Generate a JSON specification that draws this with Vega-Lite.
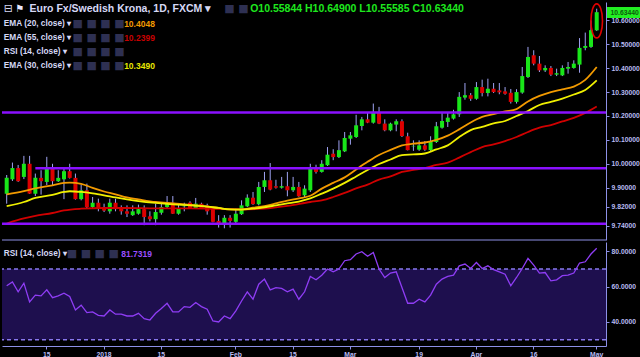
{
"$schema": "https://vega.github.io/schema/vega-lite/v6.json",
"background": "#000000",
"padding": 0,
"spacing": 1,
"config": {
  "view": {"stroke": null},
  "axis": {"grid": false, "domainColor": "#8d90e6", "tickColor": "#8d90e6", "labelColor": "#b8bbf2", "labelFont": "Liberation Sans", "labelFontSize": 6.8, "labelFontWeight": "bold"},
  "text": {"font": "Liberation Sans"}
},
"datasets": {
  "candles": [
    {"d":"2017-12-06","o":9.875,"h":9.953,"l":9.833,"c":9.941},
    {"d":"2017-12-07","o":9.935,"h":10.005,"l":9.928,"c":9.982},
    {"d":"2017-12-08","o":9.982,"h":9.995,"l":9.924,"c":9.927},
    {"d":"2017-12-11","o":9.945,"h":10.033,"l":9.936,"c":10.000},
    {"d":"2017-12-12","o":10.000,"h":10.033,"l":9.874,"c":9.875},
    {"d":"2017-12-13","o":9.875,"h":9.959,"l":9.865,"c":9.941},
    {"d":"2017-12-14","o":9.941,"h":9.973,"l":9.871,"c":9.927},
    {"d":"2017-12-15","o":9.924,"h":10.029,"l":9.911,"c":9.980},
    {"d":"2017-12-18","o":9.985,"h":10.000,"l":9.911,"c":9.927},
    {"d":"2017-12-19","o":9.927,"h":9.973,"l":9.924,"c":9.941},
    {"d":"2017-12-20","o":9.935,"h":9.980,"l":9.852,"c":9.969},
    {"d":"2017-12-21","o":9.969,"h":10.000,"l":9.938,"c":9.941},
    {"d":"2017-12-22","o":9.941,"h":9.959,"l":9.850,"c":9.852},
    {"d":"2017-12-26","o":9.852,"h":9.913,"l":9.847,"c":9.889},
    {"d":"2017-12-27","o":9.889,"h":9.917,"l":9.815,"c":9.819},
    {"d":"2017-12-28","o":9.819,"h":9.861,"l":9.812,"c":9.837},
    {"d":"2017-12-29","o":9.837,"h":9.854,"l":9.801,"c":9.812},
    {"d":"2018-01-01","o":9.815,"h":9.833,"l":9.798,"c":9.804},
    {"d":"2018-01-02","o":9.801,"h":9.854,"l":9.791,"c":9.837},
    {"d":"2018-01-03","o":9.837,"h":9.854,"l":9.801,"c":9.810},
    {"d":"2018-01-04","o":9.812,"h":9.826,"l":9.787,"c":9.801},
    {"d":"2018-01-05","o":9.801,"h":9.826,"l":9.777,"c":9.791},
    {"d":"2018-01-08","o":9.785,"h":9.826,"l":9.782,"c":9.801},
    {"d":"2018-01-09","o":9.791,"h":9.829,"l":9.787,"c":9.810},
    {"d":"2018-01-10","o":9.810,"h":9.826,"l":9.743,"c":9.777},
    {"d":"2018-01-11","o":9.780,"h":9.801,"l":9.759,"c":9.768},
    {"d":"2018-01-12","o":9.768,"h":9.833,"l":9.743,"c":9.798},
    {"d":"2018-01-15","o":9.795,"h":9.833,"l":9.787,"c":9.819},
    {"d":"2018-01-16","o":9.819,"h":9.865,"l":9.812,"c":9.837},
    {"d":"2018-01-17","o":9.837,"h":9.865,"l":9.790,"c":9.791},
    {"d":"2018-01-18","o":9.791,"h":9.829,"l":9.787,"c":9.815},
    {"d":"2018-01-19","o":9.822,"h":9.837,"l":9.801,"c":9.824},
    {"d":"2018-01-22","o":9.837,"h":9.843,"l":9.813,"c":9.815},
    {"d":"2018-01-23","o":9.815,"h":9.857,"l":9.812,"c":9.833},
    {"d":"2018-01-24","o":9.833,"h":9.837,"l":9.812,"c":9.815},
    {"d":"2018-01-25","o":9.826,"h":9.833,"l":9.787,"c":9.801},
    {"d":"2018-01-26","o":9.812,"h":9.819,"l":9.755,"c":9.757},
    {"d":"2018-01-29","o":9.761,"h":9.785,"l":9.733,"c":9.752},
    {"d":"2018-01-30","o":9.752,"h":9.785,"l":9.730,"c":9.774},
    {"d":"2018-01-31","o":9.774,"h":9.785,"l":9.733,"c":9.761},
    {"d":"2018-02-01","o":9.757,"h":9.812,"l":9.752,"c":9.791},
    {"d":"2018-02-02","o":9.789,"h":9.847,"l":9.786,"c":9.826},
    {"d":"2018-02-05","o":9.822,"h":9.872,"l":9.819,"c":9.858},
    {"d":"2018-02-06","o":9.858,"h":9.882,"l":9.828,"c":9.831},
    {"d":"2018-02-07","o":9.831,"h":9.924,"l":9.826,"c":9.903},
    {"d":"2018-02-08","o":9.903,"h":9.966,"l":9.882,"c":9.931},
    {"d":"2018-02-09","o":9.931,"h":10.003,"l":9.889,"c":9.892},
    {"d":"2018-02-12","o":9.906,"h":9.933,"l":9.896,"c":9.900},
    {"d":"2018-02-13","o":9.900,"h":9.945,"l":9.896,"c":9.906},
    {"d":"2018-02-14","o":9.906,"h":9.966,"l":9.864,"c":9.889},
    {"d":"2018-02-15","o":9.889,"h":9.945,"l":9.882,"c":9.903},
    {"d":"2018-02-16","o":9.903,"h":9.924,"l":9.862,"c":9.864},
    {"d":"2018-02-19","o":9.868,"h":9.910,"l":9.861,"c":9.896},
    {"d":"2018-02-20","o":9.889,"h":10.000,"l":9.882,"c":9.980},
    {"d":"2018-02-21","o":9.982,"h":9.996,"l":9.959,"c":9.966},
    {"d":"2018-02-22","o":9.966,"h":10.015,"l":9.963,"c":10.000},
    {"d":"2018-02-23","o":9.994,"h":10.070,"l":9.991,"c":10.038},
    {"d":"2018-02-26","o":10.042,"h":10.061,"l":10.015,"c":10.028},
    {"d":"2018-02-27","o":10.028,"h":10.098,"l":10.024,"c":10.057},
    {"d":"2018-02-28","o":10.052,"h":10.133,"l":10.049,"c":10.108},
    {"d":"2018-03-01","o":10.105,"h":10.133,"l":10.080,"c":10.119},
    {"d":"2018-03-02","o":10.112,"h":10.205,"l":10.108,"c":10.161},
    {"d":"2018-03-05","o":10.158,"h":10.196,"l":10.140,"c":10.186},
    {"d":"2018-03-06","o":10.186,"h":10.214,"l":10.170,"c":10.172},
    {"d":"2018-03-07","o":10.172,"h":10.252,"l":10.168,"c":10.214},
    {"d":"2018-03-08","o":10.217,"h":10.238,"l":10.166,"c":10.168},
    {"d":"2018-03-09","o":10.168,"h":10.186,"l":10.136,"c":10.140},
    {"d":"2018-03-12","o":10.140,"h":10.172,"l":10.136,"c":10.168},
    {"d":"2018-03-13","o":10.164,"h":10.186,"l":10.136,"c":10.178},
    {"d":"2018-03-14","o":10.178,"h":10.186,"l":10.112,"c":10.116},
    {"d":"2018-03-15","o":10.115,"h":10.130,"l":10.056,"c":10.057},
    {"d":"2018-03-16","o":10.073,"h":10.098,"l":10.054,"c":10.075},
    {"d":"2018-03-19","o":10.059,"h":10.098,"l":10.054,"c":10.077},
    {"d":"2018-03-20","o":10.077,"h":10.095,"l":10.054,"c":10.059},
    {"d":"2018-03-21","o":10.057,"h":10.115,"l":10.054,"c":10.095},
    {"d":"2018-03-22","o":10.091,"h":10.175,"l":10.087,"c":10.157},
    {"d":"2018-03-23","o":10.151,"h":10.217,"l":10.147,"c":10.179},
    {"d":"2018-03-26","o":10.175,"h":10.213,"l":10.154,"c":10.193},
    {"d":"2018-03-27","o":10.189,"h":10.226,"l":10.185,"c":10.207},
    {"d":"2018-03-28","o":10.207,"h":10.300,"l":10.196,"c":10.280},
    {"d":"2018-03-29","o":10.277,"h":10.338,"l":10.268,"c":10.287},
    {"d":"2018-03-30","o":10.287,"h":10.296,"l":10.263,"c":10.272},
    {"d":"2018-04-02","o":10.272,"h":10.342,"l":10.268,"c":10.321},
    {"d":"2018-04-03","o":10.321,"h":10.352,"l":10.282,"c":10.296},
    {"d":"2018-04-04","o":10.296,"h":10.356,"l":10.282,"c":10.314},
    {"d":"2018-04-05","o":10.314,"h":10.338,"l":10.296,"c":10.300},
    {"d":"2018-04-06","o":10.307,"h":10.338,"l":10.291,"c":10.299},
    {"d":"2018-04-09","o":10.303,"h":10.321,"l":10.289,"c":10.293},
    {"d":"2018-04-10","o":10.297,"h":10.313,"l":10.252,"c":10.259},
    {"d":"2018-04-11","o":10.259,"h":10.312,"l":10.252,"c":10.300},
    {"d":"2018-04-12","o":10.298,"h":10.405,"l":10.293,"c":10.367},
    {"d":"2018-04-13","o":10.363,"h":10.489,"l":10.359,"c":10.447},
    {"d":"2018-04-16","o":10.454,"h":10.475,"l":10.412,"c":10.419},
    {"d":"2018-04-17","o":10.419,"h":10.451,"l":10.384,"c":10.391},
    {"d":"2018-04-18","o":10.391,"h":10.412,"l":10.384,"c":10.401},
    {"d":"2018-04-19","o":10.401,"h":10.409,"l":10.367,"c":10.373},
    {"d":"2018-04-20","o":10.373,"h":10.398,"l":10.367,"c":10.379},
    {"d":"2018-04-23","o":10.370,"h":10.412,"l":10.367,"c":10.401},
    {"d":"2018-04-24","o":10.398,"h":10.426,"l":10.377,"c":10.405},
    {"d":"2018-04-25","o":10.401,"h":10.433,"l":10.398,"c":10.419},
    {"d":"2018-04-26","o":10.415,"h":10.526,"l":10.381,"c":10.485},
    {"d":"2018-04-27","o":10.485,"h":10.549,"l":10.475,"c":10.493},
    {"d":"2018-04-30","o":10.489,"h":10.600,"l":10.485,"c":10.559},
    {"d":"2018-05-01","o":10.55844,"h":10.649,"l":10.55585,"c":10.6344}
  ],
  "ema": [
    {"d":"2017-12-06","e20":9.872,"e30":9.823},
    {"d":"2017-12-11","e20":9.886,"e30":9.840},
    {"d":"2017-12-13","e20":9.897,"e30":9.857},
    {"d":"2017-12-18","e20":9.910,"e30":9.870},
    {"d":"2017-12-20","e20":9.920,"e30":9.882},
    {"d":"2017-12-21","e20":9.921,"e30":9.885},
    {"d":"2017-12-26","e20":9.916,"e30":9.882},
    {"d":"2017-12-28","e20":9.899,"e30":9.876},
    {"d":"2018-01-01","e20":9.884,"e30":9.868},
    {"d":"2018-01-03","e20":9.872,"e30":9.859},
    {"d":"2018-01-05","e20":9.859,"e30":9.851},
    {"d":"2018-01-09","e20":9.851,"e30":9.844},
    {"d":"2018-01-12","e20":9.840,"e30":9.836},
    {"d":"2018-01-17","e20":9.834,"e30":9.830},
    {"d":"2018-01-22","e20":9.828,"e30":9.826},
    {"d":"2018-01-25","e20":9.821,"e30":9.821},
    {"d":"2018-01-29","e20":9.815,"e30":9.815},
    {"d":"2018-01-31","e20":9.809,"e30":9.809},
    {"d":"2018-02-02","e20":9.809,"e30":9.808},
    {"d":"2018-02-06","e20":9.816,"e30":9.812},
    {"d":"2018-02-08","e20":9.823,"e30":9.818},
    {"d":"2018-02-12","e20":9.834,"e30":9.826},
    {"d":"2018-02-14","e20":9.846,"e30":9.834},
    {"d":"2018-02-16","e20":9.855,"e30":9.842},
    {"d":"2018-02-20","e20":9.866,"e30":9.855},
    {"d":"2018-02-22","e20":9.896,"e30":9.875},
    {"d":"2018-02-26","e20":9.920,"e30":9.896},
    {"d":"2018-02-28","e20":9.943,"e30":9.920},
    {"d":"2018-03-02","e20":9.976,"e30":9.947},
    {"d":"2018-03-06","e20":10.008,"e30":9.974},
    {"d":"2018-03-08","e20":10.037,"e30":9.999},
    {"d":"2018-03-12","e20":10.058,"e30":10.018},
    {"d":"2018-03-14","e20":10.077,"e30":10.036},
    {"d":"2018-03-16","e20":10.084,"e30":10.039},
    {"d":"2018-03-20","e20":10.089,"e30":10.043},
    {"d":"2018-03-22","e20":10.100,"e30":10.060},
    {"d":"2018-03-26","e20":10.118,"e30":10.077},
    {"d":"2018-03-28","e20":10.144,"e30":10.112},
    {"d":"2018-03-30","e20":10.173,"e30":10.141},
    {"d":"2018-04-03","e20":10.196,"e30":10.154},
    {"d":"2018-04-05","e20":10.208,"e30":10.169},
    {"d":"2018-04-09","e20":10.219,"e30":10.179},
    {"d":"2018-04-11","e20":10.229,"e30":10.200},
    {"d":"2018-04-13","e20":10.261,"e30":10.221},
    {"d":"2018-04-17","e20":10.284,"e30":10.246},
    {"d":"2018-04-19","e20":10.300,"e30":10.259},
    {"d":"2018-04-23","e20":10.311,"e30":10.273},
    {"d":"2018-04-25","e20":10.323,"e30":10.290},
    {"d":"2018-04-27","e20":10.351,"e30":10.309},
    {"d":"2018-05-01","e20":10.4048,"e30":10.349}
  ],
  "ema55": [
    {"d":"2017-12-06","e55":9.750},
    {"d":"2017-12-11","e55":9.771},
    {"d":"2017-12-13","e55":9.782},
    {"d":"2017-12-18","e55":9.794},
    {"d":"2017-12-20","e55":9.805},
    {"d":"2017-12-26","e55":9.812},
    {"d":"2018-01-01","e55":9.815},
    {"d":"2018-01-05","e55":9.815},
    {"d":"2018-01-12","e55":9.813},
    {"d":"2018-01-22","e55":9.813},
    {"d":"2018-01-29","e55":9.811},
    {"d":"2018-02-02","e55":9.809},
    {"d":"2018-02-08","e55":9.812},
    {"d":"2018-02-14","e55":9.824},
    {"d":"2018-02-20","e55":9.840},
    {"d":"2018-02-22","e55":9.847},
    {"d":"2018-02-26","e55":9.861},
    {"d":"2018-02-28","e55":9.878},
    {"d":"2018-03-02","e55":9.897},
    {"d":"2018-03-06","e55":9.913},
    {"d":"2018-03-08","e55":9.934},
    {"d":"2018-03-12","e55":9.947},
    {"d":"2018-03-14","e55":9.966},
    {"d":"2018-03-16","e55":9.974},
    {"d":"2018-03-20","e55":9.982},
    {"d":"2018-03-22","e55":9.995},
    {"d":"2018-03-26","e55":10.005},
    {"d":"2018-03-28","e55":10.026},
    {"d":"2018-03-30","e55":10.049},
    {"d":"2018-04-03","e55":10.070},
    {"d":"2018-04-05","e55":10.081},
    {"d":"2018-04-09","e55":10.095},
    {"d":"2018-04-11","e55":10.112},
    {"d":"2018-04-13","e55":10.133},
    {"d":"2018-04-17","e55":10.151},
    {"d":"2018-04-19","e55":10.162},
    {"d":"2018-04-23","e55":10.177},
    {"d":"2018-04-25","e55":10.192},
    {"d":"2018-04-27","e55":10.213},
    {"d":"2018-05-01","e55":10.2399}
  ],
  "rsi": [
    {"d":"2017-12-06","r":60.5},{"d":"2017-12-07","r":62.7},{"d":"2017-12-08","r":57.1},{"d":"2017-12-11","r":62.0},
    {"d":"2017-12-12","r":51.4},{"d":"2017-12-13","r":55.2},{"d":"2017-12-14","r":54.8},{"d":"2017-12-15","r":58.2},
    {"d":"2017-12-18","r":53.8},{"d":"2017-12-19","r":54.8},{"d":"2017-12-20","r":56.3},{"d":"2017-12-21","r":54.4},
    {"d":"2017-12-22","r":46.8},{"d":"2017-12-26","r":49.5},{"d":"2017-12-27","r":45.3},{"d":"2017-12-28","r":45.7},
    {"d":"2017-12-29","r":43.8},{"d":"2018-01-01","r":43.4},{"d":"2018-01-02","r":46.8},{"d":"2018-01-03","r":44.4},
    {"d":"2018-01-04","r":44.4},{"d":"2018-01-05","r":43.4},{"d":"2018-01-08","r":43.4},{"d":"2018-01-09","r":44.9},
    {"d":"2018-01-10","r":41.9},{"d":"2018-01-11","r":41.1},{"d":"2018-01-12","r":44.9},{"d":"2018-01-15","r":47.6},
    {"d":"2018-01-16","r":50.6},{"d":"2018-01-17","r":45.7},{"d":"2018-01-18","r":45.7},{"d":"2018-01-19","r":48.7},
    {"d":"2018-01-22","r":48.3},{"d":"2018-01-23","r":51.0},{"d":"2018-01-24","r":48.7},{"d":"2018-01-25","r":47.2},
    {"d":"2018-01-26","r":40.6},{"d":"2018-01-29","r":40.0},{"d":"2018-01-30","r":43.4},{"d":"2018-01-31","r":41.9},
    {"d":"2018-02-01","r":46.3},{"d":"2018-02-02","r":51.9},{"d":"2018-02-05","r":57.1},{"d":"2018-02-06","r":52.9},
    {"d":"2018-02-07","r":61.4},{"d":"2018-02-08","r":64.3},{"d":"2018-02-09","r":58.2},{"d":"2018-02-12","r":59.5},
    {"d":"2018-02-13","r":59.0},{"d":"2018-02-14","r":57.1},{"d":"2018-02-15","r":58.6},{"d":"2018-02-16","r":52.9},
    {"d":"2018-02-19","r":57.1},{"d":"2018-02-20","r":65.8},{"d":"2018-02-21","r":63.9},{"d":"2018-02-22","r":66.5},
    {"d":"2018-02-23","r":70.0},{"d":"2018-02-26","r":68.4},{"d":"2018-02-27","r":70.0},{"d":"2018-02-28","r":74.7},
    {"d":"2018-03-01","r":75.3},{"d":"2018-03-02","r":78.5},{"d":"2018-03-05","r":79.8},{"d":"2018-03-06","r":77.2},
    {"d":"2018-03-07","r":79.4},{"d":"2018-03-08","r":70.0},{"d":"2018-03-09","r":65.2},{"d":"2018-03-12","r":67.7},
    {"d":"2018-03-13","r":68.4},{"d":"2018-03-14","r":59.5},{"d":"2018-03-15","r":50.6},{"d":"2018-03-16","r":50.6},
    {"d":"2018-03-19","r":52.9},{"d":"2018-03-20","r":51.4},{"d":"2018-03-21","r":55.2},{"d":"2018-03-22","r":61.4},
    {"d":"2018-03-23","r":64.3},{"d":"2018-03-26","r":65.8},{"d":"2018-03-27","r":66.5},{"d":"2018-03-28","r":71.8},
    {"d":"2018-03-29","r":72.8},{"d":"2018-03-30","r":70.3},{"d":"2018-04-02","r":73.7},{"d":"2018-04-03","r":70.3},
    {"d":"2018-04-04","r":71.8},{"d":"2018-04-05","r":69.6},{"d":"2018-04-06","r":68.4},{"d":"2018-04-09","r":67.1},
    {"d":"2018-04-10","r":60.5},{"d":"2018-04-11","r":65.2},{"d":"2018-04-12","r":70.3},{"d":"2018-04-13","r":76.0},
    {"d":"2018-04-16","r":72.2},{"d":"2018-04-17","r":67.7},{"d":"2018-04-18","r":68.0},{"d":"2018-04-19","r":63.3},
    {"d":"2018-04-20","r":63.9},{"d":"2018-04-23","r":66.2},{"d":"2018-04-24","r":66.5},{"d":"2018-04-25","r":67.7},
    {"d":"2018-04-26","r":73.4},{"d":"2018-04-27","r":74.1},{"d":"2018-04-30","r":78.5},{"d":"2018-05-01","r":81.7319}
  ]
},
"vconcat": [
  {
    "width": 604, "height": 238,
    "layer": [
      {
        "data": {"name": "candles"},
        "mark": {"type": "rule", "color": "#9fa3f2", "strokeWidth": 1},
        "encoding": {
          "x": {"field": "d", "type": "ordinal", "bandPosition": 0.5, "axis": null,
                "scale": {"type": "band", "paddingInner": 0, "paddingOuter": 0.72, "align": 0.222, "round": false}},
          "y": {"field": "l", "type": "quantitative",
                "scale": {"domain": [9.681, 10.677], "zero": false, "nice": false},
                "axis": {"orient": "right", "title": null, "values": [10.6344, 10.6, 10.5, 10.4, 10.3, 10.2, 10.1, 10.0, 9.9, 9.82, 9.74], "format": ".5f", "labelOverlap": false, "domain": true, "tickSize": {"condition": {"test": "datum.value > 10.62", "value": 35}, "value": 3}, "tickWidth": {"condition": {"test": "datum.value > 10.62", "value": 11}, "value": 1}, "tickColor": {"condition": {"test": "datum.value > 10.62", "value": "#22ee22"}, "value": "#8d90e6"}, "labelColor": {"condition": {"test": "datum.value > 10.62", "value": "#0d5a0d"}, "value": "#b8bbf2"}, "labelPadding": {"condition": {"test": "datum.value > 10.62", "value": -31}, "value": 2}}},
          "y2": {"field": "h"}
        }
      },
      {
        "data": {"name": "candles"},
        "mark": {"type": "bar", "width": {"band": 0.7}},
        "encoding": {
          "x": {"field": "d", "type": "ordinal", "axis": null},
          "y": {"field": "o", "type": "quantitative",
                "axis": {"orient": "right", "title": null, "values": [10.6344, 10.6, 10.5, 10.4, 10.3, 10.2, 10.1, 10.0, 9.9, 9.82, 9.74], "format": ".5f", "labelOverlap": false, "domain": true, "tickSize": {"condition": {"test": "datum.value > 10.62", "value": 35}, "value": 3}, "tickWidth": {"condition": {"test": "datum.value > 10.62", "value": 11}, "value": 1}, "tickColor": {"condition": {"test": "datum.value > 10.62", "value": "#22ee22"}, "value": "#8d90e6"}, "labelColor": {"condition": {"test": "datum.value > 10.62", "value": "#0d5a0d"}, "value": "#b8bbf2"}, "labelPadding": {"condition": {"test": "datum.value > 10.62", "value": -31}, "value": 2}}},
          "y2": {"field": "c"},
          "color": {"condition": {"test": "datum.c >= datum.o", "value": "#19e619"}, "value": "#dd0000"}
        }
      },
      {
        "data": {"name": "ema55"},
        "mark": {"type": "line", "color": "#d00000", "strokeWidth": 1.8, "interpolate": "monotone"},
        "encoding": {
          "x": {"field": "d", "type": "ordinal", "bandPosition": 0.5, "axis": null},
          "y": {"field": "e55", "type": "quantitative",
                "axis": {"orient": "right", "title": null, "values": [10.6344, 10.6, 10.5, 10.4, 10.3, 10.2, 10.1, 10.0, 9.9, 9.82, 9.74], "format": ".5f", "labelOverlap": false, "domain": true, "tickSize": {"condition": {"test": "datum.value > 10.62", "value": 35}, "value": 3}, "tickWidth": {"condition": {"test": "datum.value > 10.62", "value": 11}, "value": 1}, "tickColor": {"condition": {"test": "datum.value > 10.62", "value": "#22ee22"}, "value": "#8d90e6"}, "labelColor": {"condition": {"test": "datum.value > 10.62", "value": "#0d5a0d"}, "value": "#b8bbf2"}, "labelPadding": {"condition": {"test": "datum.value > 10.62", "value": -31}, "value": 2}}}
        }
      },
      {
        "data": {"name": "ema"},
        "mark": {"type": "line", "color": "#f29a00", "strokeWidth": 1.8, "interpolate": "monotone"},
        "encoding": {
          "x": {"field": "d", "type": "ordinal", "bandPosition": 0.5, "axis": null},
          "y": {"field": "e20", "type": "quantitative",
                "axis": {"orient": "right", "title": null, "values": [10.6344, 10.6, 10.5, 10.4, 10.3, 10.2, 10.1, 10.0, 9.9, 9.82, 9.74], "format": ".5f", "labelOverlap": false, "domain": true, "tickSize": {"condition": {"test": "datum.value > 10.62", "value": 35}, "value": 3}, "tickWidth": {"condition": {"test": "datum.value > 10.62", "value": 11}, "value": 1}, "tickColor": {"condition": {"test": "datum.value > 10.62", "value": "#22ee22"}, "value": "#8d90e6"}, "labelColor": {"condition": {"test": "datum.value > 10.62", "value": "#0d5a0d"}, "value": "#b8bbf2"}, "labelPadding": {"condition": {"test": "datum.value > 10.62", "value": -31}, "value": 2}}}
        }
      },
      {
        "data": {"name": "ema"},
        "mark": {"type": "line", "color": "#f0f000", "strokeWidth": 1.8, "interpolate": "monotone"},
        "encoding": {
          "x": {"field": "d", "type": "ordinal", "bandPosition": 0.5, "axis": null},
          "y": {"field": "e30", "type": "quantitative",
                "axis": {"orient": "right", "title": null, "values": [10.6344, 10.6, 10.5, 10.4, 10.3, 10.2, 10.1, 10.0, 9.9, 9.82, 9.74], "format": ".5f", "labelOverlap": false, "domain": true, "tickSize": {"condition": {"test": "datum.value > 10.62", "value": 35}, "value": 3}, "tickWidth": {"condition": {"test": "datum.value > 10.62", "value": 11}, "value": 1}, "tickColor": {"condition": {"test": "datum.value > 10.62", "value": "#22ee22"}, "value": "#8d90e6"}, "labelColor": {"condition": {"test": "datum.value > 10.62", "value": "#0d5a0d"}, "value": "#b8bbf2"}, "labelPadding": {"condition": {"test": "datum.value > 10.62", "value": -31}, "value": 2}}}
        }
      },
      {
        "data": {"values": [{"level": 10.215}, {"level": 9.749}]},
        "mark": {"type": "rule", "color": "#8a10ff", "strokeWidth": 2.5},
        "encoding": {"y": {"field": "level", "type": "quantitative",
                "axis": {"orient": "right", "title": null, "values": [10.6344, 10.6, 10.5, 10.4, 10.3, 10.2, 10.1, 10.0, 9.9, 9.82, 9.74], "format": ".5f", "labelOverlap": false, "domain": true, "tickSize": {"condition": {"test": "datum.value > 10.62", "value": 35}, "value": 3}, "tickWidth": {"condition": {"test": "datum.value > 10.62", "value": 11}, "value": 1}, "tickColor": {"condition": {"test": "datum.value > 10.62", "value": "#22ee22"}, "value": "#8d90e6"}, "labelColor": {"condition": {"test": "datum.value > 10.62", "value": "#0d5a0d"}, "value": "#b8bbf2"}, "labelPadding": {"condition": {"test": "datum.value > 10.62", "value": -31}, "value": 2}}}}
      },
      {
        "data": {"values": [{"level": 9.981}]},
        "mark": {"type": "rule", "color": "#8a10ff", "strokeWidth": 2.5},
        "encoding": {
          "x": {"datum": "2017-12-13", "type": "ordinal", "bandPosition": 0.5, "axis": null},
          "x2": {"value": "width"},
          "y": {"field": "level", "type": "quantitative",
                "axis": {"orient": "right", "title": null, "values": [10.6344, 10.6, 10.5, 10.4, 10.3, 10.2, 10.1, 10.0, 9.9, 9.82, 9.74], "format": ".5f", "labelOverlap": false, "domain": true, "tickSize": {"condition": {"test": "datum.value > 10.62", "value": 35}, "value": 3}, "tickWidth": {"condition": {"test": "datum.value > 10.62", "value": 11}, "value": 1}, "tickColor": {"condition": {"test": "datum.value > 10.62", "value": "#22ee22"}, "value": "#8d90e6"}, "labelColor": {"condition": {"test": "datum.value > 10.62", "value": "#0d5a0d"}, "value": "#b8bbf2"}, "labelPadding": {"condition": {"test": "datum.value > 10.62", "value": -31}, "value": 2}}}
        }
      },
      {
        "data": {"values": [{"level": 9.681}]},
        "mark": {"type": "rule", "color": "#8d90e6", "strokeWidth": 1.2},
        "encoding": {"y": {"field": "level", "type": "quantitative",
                "axis": {"orient": "right", "title": null, "values": [10.6344, 10.6, 10.5, 10.4, 10.3, 10.2, 10.1, 10.0, 9.9, 9.82, 9.74], "format": ".5f", "labelOverlap": false, "domain": true, "tickSize": {"condition": {"test": "datum.value > 10.62", "value": 35}, "value": 3}, "tickWidth": {"condition": {"test": "datum.value > 10.62", "value": 11}, "value": 1}, "tickColor": {"condition": {"test": "datum.value > 10.62", "value": "#22ee22"}, "value": "#8d90e6"}, "labelColor": {"condition": {"test": "datum.value > 10.62", "value": "#0d5a0d"}, "value": "#b8bbf2"}, "labelPadding": {"condition": {"test": "datum.value > 10.62", "value": -31}, "value": 2}}}}
      },
      {
        "data": {"values": [{"p": 10.598}]},
        "mark": {"type": "point", "shape": "M0,-1A0.34,1,0,1,1,0,1A0.34,1,0,1,1,0,-1Z", "size": 1156, "filled": false, "stroke": "#e00000", "strokeWidth": 1.6, "opacity": 1},
        "encoding": {
          "x": {"datum": "2018-05-01", "type": "ordinal", "bandPosition": 0.5, "axis": null},
          "y": {"field": "p", "type": "quantitative",
                "axis": {"orient": "right", "title": null, "values": [10.6344, 10.6, 10.5, 10.4, 10.3, 10.2, 10.1, 10.0, 9.9, 9.82, 9.74], "format": ".5f", "labelOverlap": false, "domain": true, "tickSize": {"condition": {"test": "datum.value > 10.62", "value": 35}, "value": 3}, "tickWidth": {"condition": {"test": "datum.value > 10.62", "value": 11}, "value": 1}, "tickColor": {"condition": {"test": "datum.value > 10.62", "value": "#22ee22"}, "value": "#8d90e6"}, "labelColor": {"condition": {"test": "datum.value > 10.62", "value": "#0d5a0d"}, "value": "#b8bbf2"}, "labelPadding": {"condition": {"test": "datum.value > 10.62", "value": -31}, "value": 2}}}
        }
      },
      {
        "data": {"values": [{"t": "⊟", "p": 10.648}]},
        "mark": {"type": "text", "align": "left", "baseline": "middle", "font": "DejaVu Sans", "fontSize": 11, "color": "#d6d8f5"},
        "encoding": {"text": {"field": "t"}, "x": {"datum": "2017-12-06", "type": "ordinal", "bandPosition": 0, "axis": null},
          "y": {"field": "p", "type": "quantitative",
                "axis": {"orient": "right", "title": null, "values": [10.6344, 10.6, 10.5, 10.4, 10.3, 10.2, 10.1, 10.0, 9.9, 9.82, 9.74], "format": ".5f", "labelOverlap": false, "domain": true, "tickSize": {"condition": {"test": "datum.value > 10.62", "value": 35}, "value": 3}, "tickWidth": {"condition": {"test": "datum.value > 10.62", "value": 11}, "value": 1}, "tickColor": {"condition": {"test": "datum.value > 10.62", "value": "#22ee22"}, "value": "#8d90e6"}, "labelColor": {"condition": {"test": "datum.value > 10.62", "value": "#0d5a0d"}, "value": "#b8bbf2"}, "labelPadding": {"condition": {"test": "datum.value > 10.62", "value": -31}, "value": 2}}}}
      },
      {
        "data": {"values": [{"t": "⚑", "p": 10.648}]},
        "mark": {"type": "text", "align": "left", "baseline": "middle", "font": "DejaVu Sans", "fontSize": 10, "color": "#e8e8ff"},
        "encoding": {"text": {"field": "t"}, "x": {"datum": "2017-12-08", "type": "ordinal", "bandPosition": 0, "axis": null},
          "y": {"field": "p", "type": "quantitative",
                "axis": {"orient": "right", "title": null, "values": [10.6344, 10.6, 10.5, 10.4, 10.3, 10.2, 10.1, 10.0, 9.9, 9.82, 9.74], "format": ".5f", "labelOverlap": false, "domain": true, "tickSize": {"condition": {"test": "datum.value > 10.62", "value": 35}, "value": 3}, "tickWidth": {"condition": {"test": "datum.value > 10.62", "value": 11}, "value": 1}, "tickColor": {"condition": {"test": "datum.value > 10.62", "value": "#22ee22"}, "value": "#8d90e6"}, "labelColor": {"condition": {"test": "datum.value > 10.62", "value": "#0d5a0d"}, "value": "#b8bbf2"}, "labelPadding": {"condition": {"test": "datum.value > 10.62", "value": -31}, "value": 2}}}}
      },
      {
        "data": {"values": [{"t": "Euro Fx/Swedish Krona, 1D, FXCM ▾", "p": 10.648}]},
        "mark": {"type": "text", "align": "left", "baseline": "middle", "fontSize": 10.5, "fontWeight": "bold", "color": "#d6d8f5"},
        "encoding": {"text": {"field": "t"}, "x": {"datum": "2017-12-12", "type": "ordinal", "bandPosition": 0.5, "axis": null},
          "y": {"field": "p", "type": "quantitative",
                "axis": {"orient": "right", "title": null, "values": [10.6344, 10.6, 10.5, 10.4, 10.3, 10.2, 10.1, 10.0, 9.9, 9.82, 9.74], "format": ".5f", "labelOverlap": false, "domain": true, "tickSize": {"condition": {"test": "datum.value > 10.62", "value": 35}, "value": 3}, "tickWidth": {"condition": {"test": "datum.value > 10.62", "value": 11}, "value": 1}, "tickColor": {"condition": {"test": "datum.value > 10.62", "value": "#22ee22"}, "value": "#8d90e6"}, "labelColor": {"condition": {"test": "datum.value > 10.62", "value": "#0d5a0d"}, "value": "#b8bbf2"}, "labelPadding": {"condition": {"test": "datum.value > 10.62", "value": -31}, "value": 2}}}}
      },
      {
        "data": {"values": [{"t": "■ ■", "p": 10.648}]},
        "mark": {"type": "text", "align": "left", "baseline": "middle", "font": "DejaVu Sans", "fontSize": 11, "color": "#2e3052"},
        "encoding": {"text": {"field": "t"}, "x": {"datum": "2018-01-30", "type": "ordinal", "bandPosition": 0.5, "axis": null},
          "y": {"field": "p", "type": "quantitative",
                "axis": {"orient": "right", "title": null, "values": [10.6344, 10.6, 10.5, 10.4, 10.3, 10.2, 10.1, 10.0, 9.9, 9.82, 9.74], "format": ".5f", "labelOverlap": false, "domain": true, "tickSize": {"condition": {"test": "datum.value > 10.62", "value": 35}, "value": 3}, "tickWidth": {"condition": {"test": "datum.value > 10.62", "value": 11}, "value": 1}, "tickColor": {"condition": {"test": "datum.value > 10.62", "value": "#22ee22"}, "value": "#8d90e6"}, "labelColor": {"condition": {"test": "datum.value > 10.62", "value": "#0d5a0d"}, "value": "#b8bbf2"}, "labelPadding": {"condition": {"test": "datum.value > 10.62", "value": -31}, "value": 2}}}}
      },
      {
        "data": {"values": [{"t": "O10.55844 H10.64900 L10.55585 C10.63440", "p": 10.648}]},
        "mark": {"type": "text", "align": "left", "baseline": "middle", "fontSize": 10.5, "fontWeight": "bold", "color": "#1ee81e"},
        "encoding": {"text": {"field": "t"}, "x": {"datum": "2018-02-06", "type": "ordinal", "bandPosition": 0, "axis": null},
          "y": {"field": "p", "type": "quantitative",
                "axis": {"orient": "right", "title": null, "values": [10.6344, 10.6, 10.5, 10.4, 10.3, 10.2, 10.1, 10.0, 9.9, 9.82, 9.74], "format": ".5f", "labelOverlap": false, "domain": true, "tickSize": {"condition": {"test": "datum.value > 10.62", "value": 35}, "value": 3}, "tickWidth": {"condition": {"test": "datum.value > 10.62", "value": 11}, "value": 1}, "tickColor": {"condition": {"test": "datum.value > 10.62", "value": "#22ee22"}, "value": "#8d90e6"}, "labelColor": {"condition": {"test": "datum.value > 10.62", "value": "#0d5a0d"}, "value": "#b8bbf2"}, "labelPadding": {"condition": {"test": "datum.value > 10.62", "value": -31}, "value": 2}}}}
      },
      {
        "data": {"values": [{"t": "EMA (20, close) ▾", "p": 10.585}, {"t": "EMA (55, close) ▾", "p": 10.526}, {"t": "RSI (14, close) ▾", "p": 10.468}, {"t": "EMA (30, close) ▾", "p": 10.409}]},
        "mark": {"type": "text", "align": "left", "baseline": "middle", "fontSize": 8.3, "fontWeight": "bold", "color": "#d6d8f5"},
        "encoding": {"text": {"field": "t"}, "x": {"datum": "2017-12-06", "type": "ordinal", "bandPosition": 0, "axis": null},
          "y": {"field": "p", "type": "quantitative",
                "axis": {"orient": "right", "title": null, "values": [10.6344, 10.6, 10.5, 10.4, 10.3, 10.2, 10.1, 10.0, 9.9, 9.82, 9.74], "format": ".5f", "labelOverlap": false, "domain": true, "tickSize": {"condition": {"test": "datum.value > 10.62", "value": 35}, "value": 3}, "tickWidth": {"condition": {"test": "datum.value > 10.62", "value": 11}, "value": 1}, "tickColor": {"condition": {"test": "datum.value > 10.62", "value": "#22ee22"}, "value": "#8d90e6"}, "labelColor": {"condition": {"test": "datum.value > 10.62", "value": "#0d5a0d"}, "value": "#b8bbf2"}, "labelPadding": {"condition": {"test": "datum.value > 10.62", "value": -31}, "value": 2}}}}
      },
      {
        "data": {"values": [{"t": "■ ■ ■ ■", "p": 10.585}, {"t": "■ ■ ■ ■", "p": 10.526}, {"t": "■ ■ ■ ■", "p": 10.468}, {"t": "■ ■ ■ ■", "p": 10.409}]},
        "mark": {"type": "text", "align": "left", "baseline": "middle", "font": "DejaVu Sans", "fontSize": 11, "color": "#2e3052"},
        "encoding": {"text": {"field": "t"}, "x": {"datum": "2017-12-22", "type": "ordinal", "bandPosition": 0, "axis": null},
          "y": {"field": "p", "type": "quantitative",
                "axis": {"orient": "right", "title": null, "values": [10.6344, 10.6, 10.5, 10.4, 10.3, 10.2, 10.1, 10.0, 9.9, 9.82, 9.74], "format": ".5f", "labelOverlap": false, "domain": true, "tickSize": {"condition": {"test": "datum.value > 10.62", "value": 35}, "value": 3}, "tickWidth": {"condition": {"test": "datum.value > 10.62", "value": 11}, "value": 1}, "tickColor": {"condition": {"test": "datum.value > 10.62", "value": "#22ee22"}, "value": "#8d90e6"}, "labelColor": {"condition": {"test": "datum.value > 10.62", "value": "#0d5a0d"}, "value": "#b8bbf2"}, "labelPadding": {"condition": {"test": "datum.value > 10.62", "value": -31}, "value": 2}}}}
      },
      {
        "data": {"values": [{"t": "10.4048", "p": 10.585, "k": "e20"}, {"t": "10.2399", "p": 10.526, "k": "e55"}, {"t": "10.3490", "p": 10.409, "k": "e30"}]},
        "mark": {"type": "text", "align": "left", "baseline": "middle", "fontSize": 8.5, "fontWeight": "bold"},
        "encoding": {
          "text": {"field": "t"},
          "x": {"datum": "2018-01-05", "type": "ordinal", "bandPosition": 0, "axis": null},
          "y": {"field": "p", "type": "quantitative",
                "axis": {"orient": "right", "title": null, "values": [10.6344, 10.6, 10.5, 10.4, 10.3, 10.2, 10.1, 10.0, 9.9, 9.82, 9.74], "format": ".5f", "labelOverlap": false, "domain": true, "tickSize": {"condition": {"test": "datum.value > 10.62", "value": 35}, "value": 3}, "tickWidth": {"condition": {"test": "datum.value > 10.62", "value": 11}, "value": 1}, "tickColor": {"condition": {"test": "datum.value > 10.62", "value": "#22ee22"}, "value": "#8d90e6"}, "labelColor": {"condition": {"test": "datum.value > 10.62", "value": "#0d5a0d"}, "value": "#b8bbf2"}, "labelPadding": {"condition": {"test": "datum.value > 10.62", "value": -31}, "value": 2}}},
          "color": {"field": "k", "type": "nominal", "legend": null, "scale": {"domain": ["e20", "e55", "e30"], "range": ["#f29a00", "#c80000", "#e8e800"]}}
        }
      }
    ]
  },
  {
    "width": 604, "height": 104,
    "layer": [
      {
        "data": {"values": [{"top": 70, "bottom": 30}]},
        "mark": {"type": "rect", "color": "#1e0f4e"},
        "encoding": {
          "y": {"field": "top", "type": "quantitative",
                "scale": {"domain": [26.4, 85.3], "zero": false, "nice": false},
                "axis": {"orient": "right", "title": null, "values": [80, 60, 40], "format": ".4f", "tickSize": 3, "labelPadding": 2, "domain": true}},
          "y2": {"field": "bottom"}
        }
      },
      {
        "data": {"values": [{"lv": 70}, {"lv": 30}]},
        "mark": {"type": "rule", "color": "#8878ee", "strokeWidth": 1.5, "strokeDash": [4, 3]},
        "encoding": {"y": {"field": "lv", "type": "quantitative",
                "axis": {"orient": "right", "title": null, "values": [80, 60, 40], "format": ".4f", "tickSize": 3, "labelPadding": 2, "domain": true}}}
      },
      {
        "data": {"name": "rsi"},
        "mark": {"type": "line", "color": "#8f3df5", "strokeWidth": 1.3},
        "encoding": {
          "x": {"field": "d", "type": "ordinal", "bandPosition": 0.5,
                "scale": {"type": "band", "paddingInner": 0, "paddingOuter": 0.72, "align": 0.222, "round": false},
                "axis": {"title": null, "values": ["2017-12-15", "2018-01-01", "2018-01-15", "2018-02-01", "2018-02-15", "2018-03-01", "2018-03-19", "2018-04-02", "2018-04-16", "2018-05-01"], "labelExpr": "datum.value == '2017-12-15' ? '15' : datum.value == '2018-01-01' ? '2018' : datum.value == '2018-01-15' ? '15' : datum.value == '2018-02-01' ? 'Feb' : datum.value == '2018-02-15' ? '15' : datum.value == '2018-03-01' ? 'Mar' : datum.value == '2018-03-19' ? '19' : datum.value == '2018-04-02' ? 'Apr' : datum.value == '2018-04-16' ? '16' : 'May'", "labelAngle": 0, "tickSize": 3, "labelPadding": 2, "domain": true, "labelOverlap": false}},
          "y": {"field": "r", "type": "quantitative",
                "axis": {"orient": "right", "title": null, "values": [80, 60, 40], "format": ".4f", "tickSize": 3, "labelPadding": 2, "domain": true}}
        }
      },
      {
        "data": {"values": [{"t": "RSI (14, close) ▾", "p": 78.5}]},
        "mark": {"type": "text", "align": "left", "baseline": "middle", "fontSize": 8.3, "fontWeight": "bold", "color": "#d6d8f5"},
        "encoding": {"text": {"field": "t"},
          "x": {"datum": "2017-12-06", "type": "ordinal", "bandPosition": 0,
                "axis": {"title": null, "values": ["2017-12-15", "2018-01-01", "2018-01-15", "2018-02-01", "2018-02-15", "2018-03-01", "2018-03-19", "2018-04-02", "2018-04-16", "2018-05-01"], "labelExpr": "datum.value == '2017-12-15' ? '15' : datum.value == '2018-01-01' ? '2018' : datum.value == '2018-01-15' ? '15' : datum.value == '2018-02-01' ? 'Feb' : datum.value == '2018-02-15' ? '15' : datum.value == '2018-03-01' ? 'Mar' : datum.value == '2018-03-19' ? '19' : datum.value == '2018-04-02' ? 'Apr' : datum.value == '2018-04-16' ? '16' : 'May'", "labelAngle": 0, "tickSize": 3, "labelPadding": 2, "domain": true, "labelOverlap": false}},
          "y": {"field": "p", "type": "quantitative",
                "axis": {"orient": "right", "title": null, "values": [80, 60, 40], "format": ".4f", "tickSize": 3, "labelPadding": 2, "domain": true}}}
      },
      {
        "data": {"values": [{"t": "■ ■ ■ ■", "p": 78.5}]},
        "mark": {"type": "text", "align": "left", "baseline": "middle", "font": "DejaVu Sans", "fontSize": 11, "color": "#2e3052"},
        "encoding": {"text": {"field": "t"},
          "x": {"datum": "2017-12-21", "type": "ordinal", "bandPosition": 0,
                "axis": {"title": null, "values": ["2017-12-15", "2018-01-01", "2018-01-15", "2018-02-01", "2018-02-15", "2018-03-01", "2018-03-19", "2018-04-02", "2018-04-16", "2018-05-01"], "labelExpr": "datum.value == '2017-12-15' ? '15' : datum.value == '2018-01-01' ? '2018' : datum.value == '2018-01-15' ? '15' : datum.value == '2018-02-01' ? 'Feb' : datum.value == '2018-02-15' ? '15' : datum.value == '2018-03-01' ? 'Mar' : datum.value == '2018-03-19' ? '19' : datum.value == '2018-04-02' ? 'Apr' : datum.value == '2018-04-16' ? '16' : 'May'", "labelAngle": 0, "tickSize": 3, "labelPadding": 2, "domain": true, "labelOverlap": false}},
          "y": {"field": "p", "type": "quantitative",
                "axis": {"orient": "right", "title": null, "values": [80, 60, 40], "format": ".4f", "tickSize": 3, "labelPadding": 2, "domain": true}}}
      },
      {
        "data": {"values": [{"t": "81.7319", "p": 78.5}]},
        "mark": {"type": "text", "align": "left", "baseline": "middle", "fontSize": 8.5, "fontWeight": "bold", "color": "#9b4dff"},
        "encoding": {"text": {"field": "t"},
          "x": {"datum": "2018-01-04", "type": "ordinal", "bandPosition": 0.5,
                "axis": {"title": null, "values": ["2017-12-15", "2018-01-01", "2018-01-15", "2018-02-01", "2018-02-15", "2018-03-01", "2018-03-19", "2018-04-02", "2018-04-16", "2018-05-01"], "labelExpr": "datum.value == '2017-12-15' ? '15' : datum.value == '2018-01-01' ? '2018' : datum.value == '2018-01-15' ? '15' : datum.value == '2018-02-01' ? 'Feb' : datum.value == '2018-02-15' ? '15' : datum.value == '2018-03-01' ? 'Mar' : datum.value == '2018-03-19' ? '19' : datum.value == '2018-04-02' ? 'Apr' : datum.value == '2018-04-16' ? '16' : 'May'", "labelAngle": 0, "tickSize": 3, "labelPadding": 2, "domain": true, "labelOverlap": false}},
          "y": {"field": "p", "type": "quantitative",
                "axis": {"orient": "right", "title": null, "values": [80, 60, 40], "format": ".4f", "tickSize": 3, "labelPadding": 2, "domain": true}}}
      }
    ]
  }
]
}
